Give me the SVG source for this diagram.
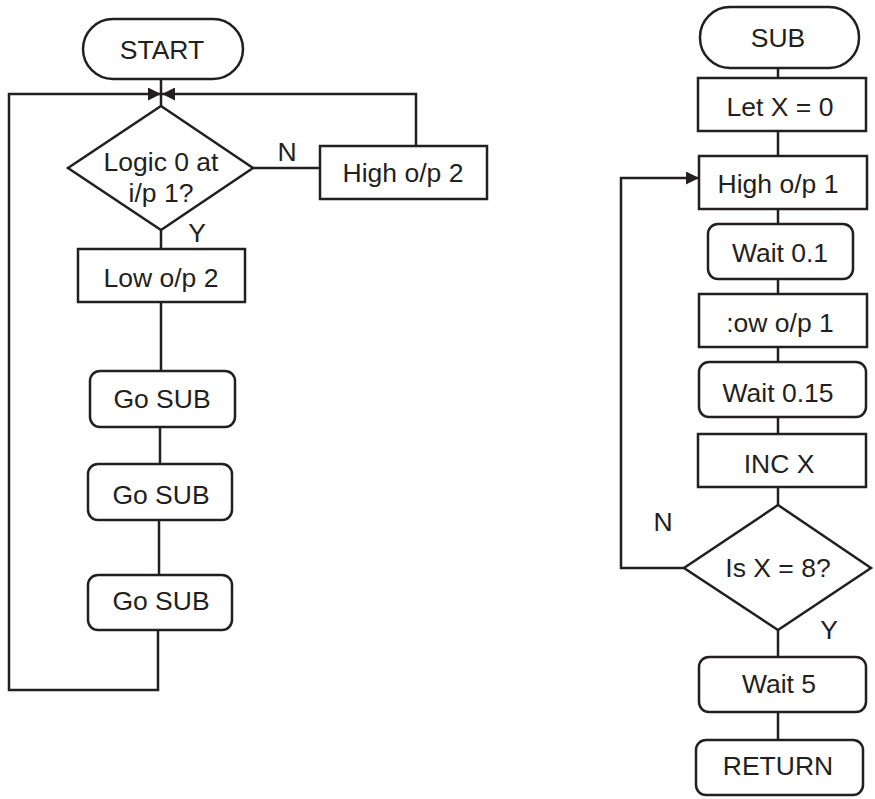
<svg xmlns="http://www.w3.org/2000/svg" width="875" height="799" viewBox="0 0 875 799">
<style>
.s{fill:#fff;stroke:#231f20;stroke-width:2.5}
.c{fill:none;stroke:#231f20;stroke-width:2.5}
text{font-family:"Liberation Sans",Arial,sans-serif;font-size:26.5px;fill:#231f20;text-anchor:middle}
</style>
<defs>
<marker id="ah" markerWidth="13" markerHeight="13" refX="13" refY="6.5" orient="auto" markerUnits="userSpaceOnUse">
<path d="M0,0 L13,6.5 L0,13 Z" fill="#231f20"/>
</marker>
</defs>
<g id="connectors">
<path class="c" d="M161,79 V106"/>
<path class="c" d="M158,630 V690 H9 V94 H161" marker-end="url(#ah)"/>
<path class="c" d="M416,146 V94 H162" marker-end="url(#ah)"/>
<path class="c" d="M253,168 H320"/>
<path class="c" d="M161,230 V249"/>
<path class="c" d="M161,302 V371"/>
<path class="c" d="M160,427 V464"/>
<path class="c" d="M159,520 V575"/>
<path class="c" d="M778,68 V78"/>
<path class="c" d="M778,131 V156"/>
<path class="c" d="M778,209 V224"/>
<path class="c" d="M778,279 V294"/>
<path class="c" d="M778,347 V362"/>
<path class="c" d="M778,417 V434"/>
<path class="c" d="M778,487 V505"/>
<path class="c" d="M684,568 H621 V178 H699" marker-end="url(#ah)"/>
<path class="c" d="M778,630 V657"/>
<path class="c" d="M778,712 V740"/>
<text x="287" y="161">N</text>
<text x="197" y="242">Y</text>
<text x="663" y="531">N</text>
<text x="829" y="639">Y</text>
</g>
<g id="start"><rect class="s" x="83" y="19" width="160" height="60" rx="30"/><text x="162" y="59">START</text></g>
<g id="logic"><path class="s" d="M161,106 L253,168 L161,230 L68,168 Z"/><text x="161" y="171">Logic 0 at</text><text x="161" y="202">i/p 1?</text></g>
<g id="high2"><rect class="s" x="320" y="146" width="167" height="53"/><text x="403" y="182">High o/p 2</text></g>
<g id="low2"><rect class="s" x="78" y="249" width="167" height="53"/><text x="161" y="287">Low o/p 2</text></g>
<g id="gosub1"><rect class="s" x="90" y="371" width="145" height="56" rx="10"/><text x="162" y="408">Go SUB</text></g>
<g id="gosub2"><rect class="s" x="88" y="464" width="144" height="56" rx="10"/><text x="161" y="504">Go SUB</text></g>
<g id="gosub3"><rect class="s" x="88" y="575" width="144" height="55" rx="10"/><text x="161" y="610">Go SUB</text></g>
<g id="sub"><rect class="s" x="700" y="7" width="159" height="61" rx="30"/><text x="778" y="47">SUB</text></g>
<g id="letx"><rect class="s" x="698" y="78" width="168" height="53"/><text x="780" y="116">Let X = 0</text></g>
<g id="high1"><rect class="s" x="699" y="156" width="168" height="53"/><text x="778" y="193">High o/p 1</text></g>
<g id="wait01"><rect class="s" x="708" y="224" width="145" height="55" rx="10"/><text x="780" y="262">Wait 0.1</text></g>
<g id="low1"><rect class="s" x="699" y="294" width="168" height="53"/><text x="780" y="332">:ow o/p 1</text></g>
<g id="wait015"><rect class="s" x="699" y="362" width="167" height="55" rx="10"/><text x="778" y="402">Wait 0.15</text></g>
<g id="incx"><rect class="s" x="698" y="434" width="168" height="53"/><text x="779" y="473">INC X</text></g>
<g id="isx8"><path class="s" d="M778,505 L871,568 L778,630 L684,568 Z"/><text x="778" y="577">Is X = 8?</text></g>
<g id="wait5"><rect class="s" x="699" y="657" width="167" height="55" rx="10"/><text x="779" y="693">Wait 5</text></g>
<g id="return"><rect class="s" x="696" y="740" width="167" height="55" rx="10"/><text x="778" y="775">RETURN</text></g>
</svg>
